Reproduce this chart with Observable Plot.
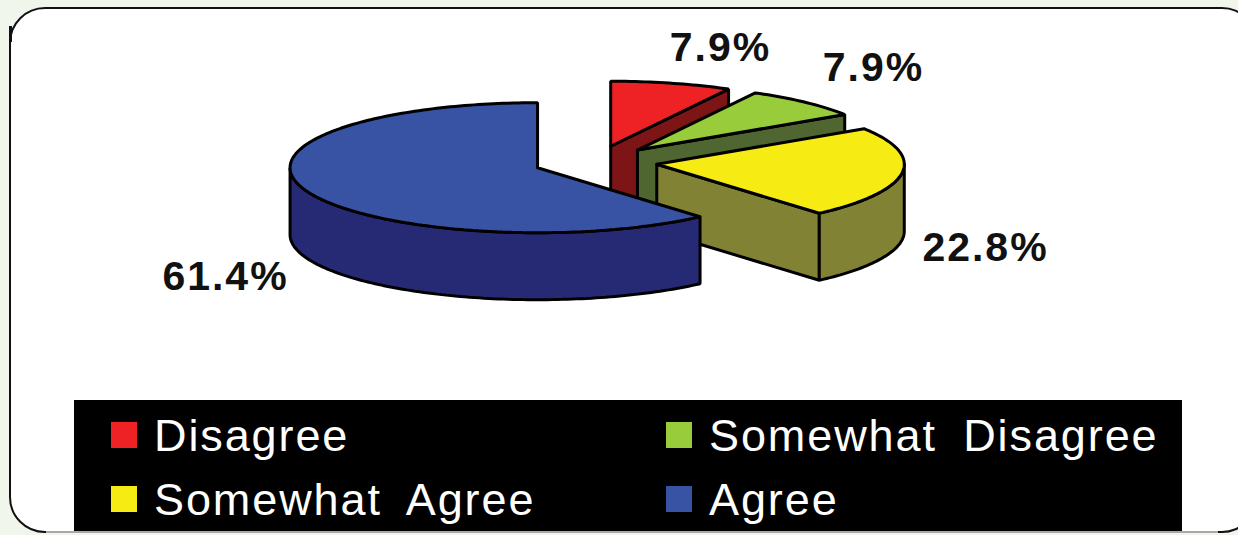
<!DOCTYPE html>
<html>
<head>
<meta charset="utf-8">
<script src="https://cdn.jsdelivr.net/npm/d3@7"></script>
<script src="https://cdn.jsdelivr.net/npm/@observablehq/plot@0.6"></script>
<style>
  html,body{margin:0;padding:0;background:#f1f6ec;width:1238px;height:535px;overflow:hidden;font-family:"Liberation Sans",Arial,sans-serif}
  #frame{position:absolute;left:9px;top:7px;width:1245px;height:522px;background:#fff;border:2px solid #111;border-radius:36px}
  #edge{position:absolute;left:46px;top:531px;width:1172px;height:2px;background:#a8a8a8}
  #tick{position:absolute;left:9px;top:26px;width:3px;height:16px;background:#111}
  #chart{position:absolute;left:0;top:0}
  #chart svg{display:block;background:transparent}
  #chart svg text{letter-spacing:2px}
  #legend{position:absolute;left:74px;top:400px;width:1108px;height:131px;background:#000;color:#fff}
  #legend .sw{position:absolute;width:26px;height:26px}
  #legend .lb{position:absolute;font-size:45px;letter-spacing:1.9px;word-spacing:12px;line-height:48px;white-space:nowrap}
</style>
</head>
<body>
<div id="frame"></div>
<div id="edge"></div>
<div id="tick"></div>
<div id="chart"></div>
<div id="legend"></div>
<script>
// Data
const categories = ["Disagree", "Somewhat Disagree", "Somewhat Agree", "Agree"];
const percents = [7.9, 7.9, 22.8, 61.4];
const topColors = ["#ee2224", "#99cc3a", "#f6ec13", "#3853a4"];
const sideColors = ["#7d1416", "#506630", "#828234", "#262a75"];

// Layout of the pie, in pixels of the picture
const W = 1238, H = 398, cx = 595, cy = 161.5, rx = 247.5, ry = 65, depth = 67 / 65, explode = 0.25;
const labelPx = [[720, 47], [873, 67], [985, 247], [225, 276]];

const arcs = d3.pie().sort(null).value(d => d)(percents);
const P = (a, ox, oy, dz = 0) => ({x: ox + Math.sin(a), y: oy - Math.cos(a) + dz});
const sweep = (a0, a1, ox, oy, dz = 0) => {
  const n = Math.max(2, Math.ceil(Math.abs(a1 - a0) / 0.02));
  return d3.range(n + 1).map(i => P(a0 + (a1 - a0) * i / n, ox, oy, dz));
};
const style = fill => ({x: "x", y: "y", fill, stroke: "#000", strokeWidth: 3, strokeLinejoin: "miter", curve: "linear"});

const marks = [];
arcs.forEach((arc, i) => {
  const mid = (arc.startAngle + arc.endAngle) / 2;
  const ox = explode * Math.sin(mid), oy = -explode * Math.cos(mid);
  const apex = {x: ox, y: oy}, apexLow = {x: ox, y: oy + depth};
  const end = P(arc.endAngle, ox, oy), endLow = P(arc.endAngle, ox, oy, depth);
  // cut face at the end of the slice, when it looks towards the viewer
  if (arc.endAngle < Math.PI) {
    marks.push(Plot.line([apex, end, endLow, apexLow, apex], style(sideColors[i])));
  }
  // outer rim, only its front half shows
  const f0 = Math.max(arc.startAngle, Math.PI / 2), f1 = Math.min(arc.endAngle, 1.5 * Math.PI);
  if (f1 > f0) {
    marks.push(Plot.line([...sweep(f0, f1, ox, oy), ...sweep(f1, f0, ox, oy, depth), P(f0, ox, oy)], style(sideColors[i])));
  }
  // top of the slice
  marks.push(Plot.line([apex, ...sweep(arc.startAngle, arc.endAngle, ox, oy), apex], style(topColors[i])));
});

const labels = percents.map((p, i) => ({
  t: p.toFixed(1) + "%",
  x: (labelPx[i][0] - cx) / rx,
  y: (labelPx[i][1] - cy) / ry
}));
marks.push(Plot.text(labels, {
  x: "x", y: "y", text: "t", fill: "#111", fontSize: 41, fontWeight: "bold",
  fontFamily: "Liberation Sans"
}));

const plot = Plot.plot({
  width: W, height: H, margin: 0,
  x: {domain: [-cx / rx, (W - cx) / rx], range: [0, W], axis: null},
  y: {domain: [-cy / ry, (H - cy) / ry], range: [0, H], axis: null},
  style: {background: "transparent", overflow: "visible"},
  marks
});
document.getElementById("chart").append(plot);

// Legend below the SVG
const legend = document.getElementById("legend");
categories.forEach((c, i) => {
  const left = i % 2 ? 592 : 37, top = i < 2 ? 22 : 86;
  const sw = document.createElement("span");
  sw.className = "sw";
  sw.style.cssText = `left:${left}px;top:${top}px;background:${topColors[i]}`;
  const lb = document.createElement("span");
  lb.className = "lb";
  lb.style.cssText = `left:${left + 43}px;top:${top - 10}px`;
  lb.textContent = c;
  legend.append(sw, lb);
});
</script>
</body>
</html>
